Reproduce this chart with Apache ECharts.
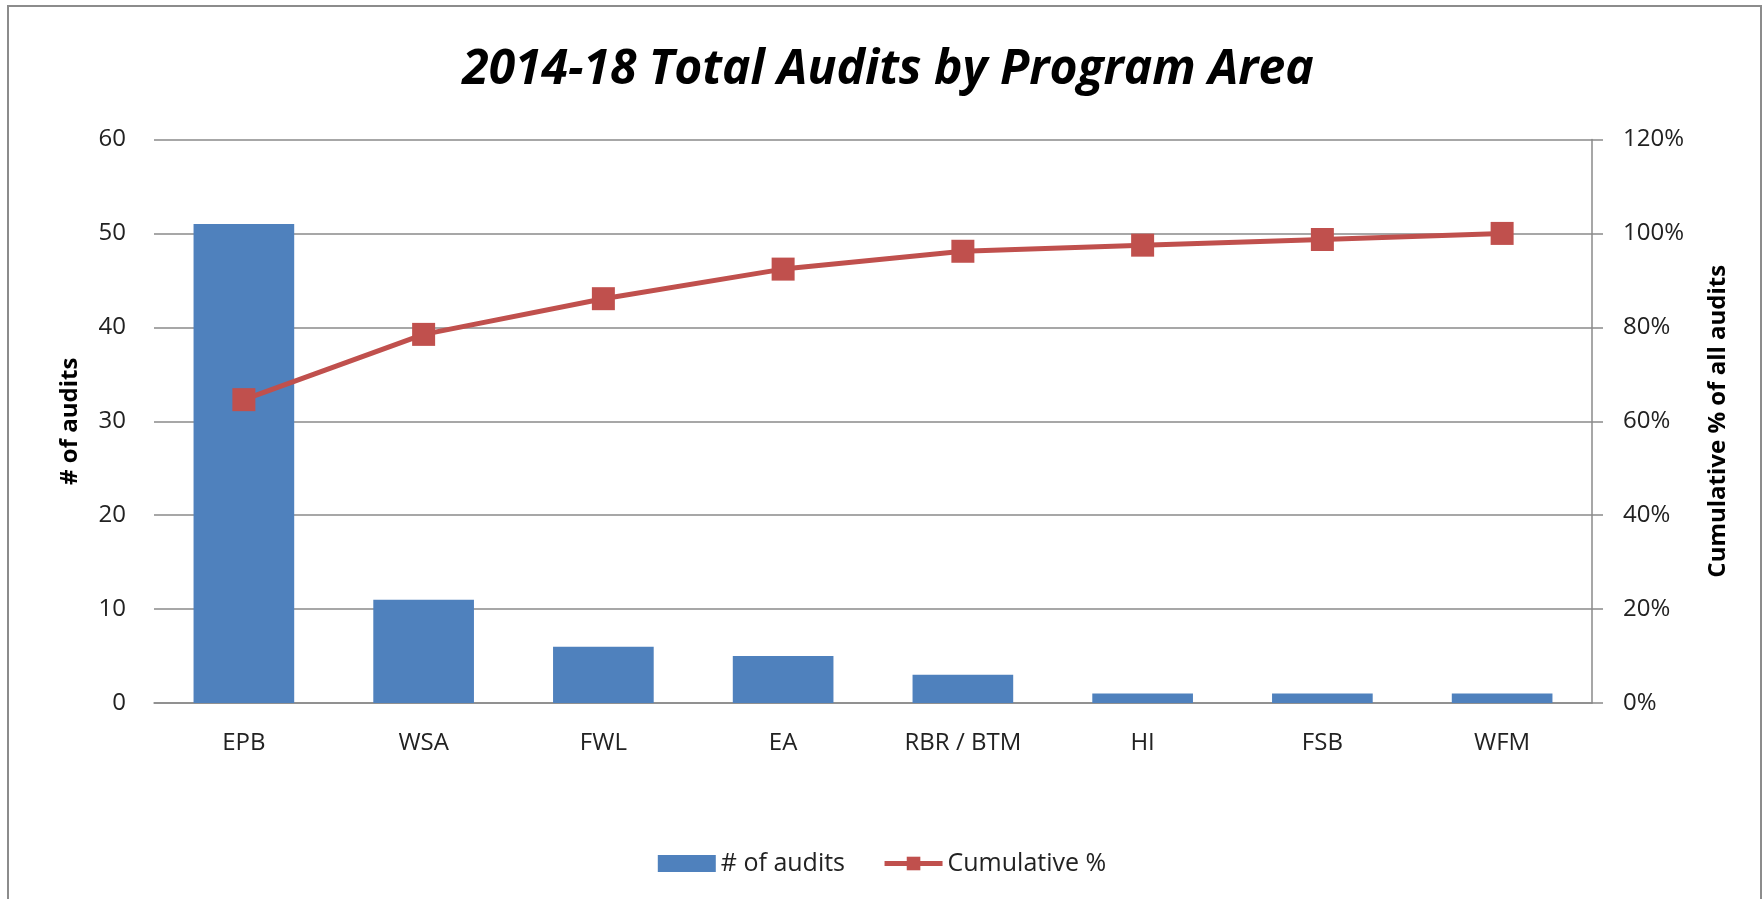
<!DOCTYPE html>
<html>
<head>
<meta charset="utf-8">
<title>2014-18 Total Audits by Program Area</title>
<script src="https://cdn.jsdelivr.net/npm/echarts@6/dist/echarts.min.js"></script>
<style>
  html, body { margin: 0; padding: 0; background: #fff; }
  #chart { width: 1764px; height: 899px; }
</style>
</head>
<body>
<div id="chart"></div>
<script>
// Data
const programAreas = ['EPB', 'WSA', 'FWL', 'EA', 'RBR / BTM', 'HI', 'FSB', 'WFM']
const auditCounts = [51, 11, 6, 5, 3, 1, 1, 1]
const cumulativeShare = [0.646, 0.785, 0.861, 0.924, 0.962, 0.975, 0.987, 1.0]

const font = '"Open Sans", "Noto Sans", sans-serif'
const gridColor = '#8a8a8a'
const textColor = '#222'
const lineColor = '#C0504D'

const chart = echarts.init(document.getElementById('chart'))

chart.setOption({
  backgroundColor: '#fff',
  animation: false,
  textStyle: { fontFamily: font, color: textColor },
  graphic: [
    {
      type: 'rect',
      shape: { x: 8, y: 6, width: 1753, height: 900 },
      style: { fill: 'none', stroke: '#8c8c8c', lineWidth: 2 },
      silent: true,
    },
  ],
  title: {
    text: '2014-18 Total Audits by Program Area',
    left: 883,
    top: 41,
    textAlign: 'center',
    textStyle: {
      fontFamily: font,
      fontSize: 48,
      fontWeight: 'bold',
      fontStyle: 'italic',
      color: '#000',
    },
  },
  legend: {
    top: 846,
    left: 'center',
    itemGap: 37,
    itemWidth: 58,
    itemHeight: 17,
    textStyle: { fontFamily: font, fontSize: 25, color: textColor },
    data: [
      { name: '# of audits', icon: 'rect' },
      {
        name: 'Cumulative %',
        lineStyle: { color: lineColor, width: 5 },
        itemStyle: { color: lineColor },
      },
    ],
  },
  grid: {
    left: 154,
    right: 172,
    top: 139.5,
    bottom: 196,
    containLabel: false,
  },
  xAxis: {
    type: 'category',
    data: programAreas,
    axisLine: { show: true, lineStyle: { color: gridColor, width: 1.5 } },
    axisTick: { show: false },
    axisLabel: { fontFamily: font, fontSize: 24, color: textColor, margin: 28 },
  },
  yAxis: [
    {
      type: 'value',
      min: 0,
      max: 60,
      interval: 10,
      name: '# of audits',
      nameLocation: 'middle',
      nameRotate: 90,
      nameGap: 72,
      nameTextStyle: { fontFamily: font, fontSize: 24, fontWeight: 'bold', color: '#000' },
      axisLine: { show: false },
      axisTick: { show: false },
      axisLabel: { fontFamily: font, fontSize: 24, color: textColor, margin: 28 },
      splitLine: { lineStyle: { color: gridColor, width: 1.5 } },
    },
    {
      type: 'value',
      min: 0,
      max: 1.2,
      interval: 0.2,
      position: 'right',
      name: 'Cumulative % of all audits',
      nameLocation: 'middle',
      nameRotate: 90,
      nameGap: 114,
      nameTextStyle: { fontFamily: font, fontSize: 24, fontWeight: 'bold', color: '#000' },
      axisLine: { show: true, lineStyle: { color: gridColor, width: 1.5 } },
      axisTick: { show: true, length: 11, lineStyle: { color: gridColor, width: 1.5 } },
      axisLabel: {
        fontFamily: font,
        fontSize: 24,
        color: textColor,
        margin: 31,
        formatter: (v) => Math.round(v * 100) + '%',
      },
      splitLine: { show: false },
    },
  ],
  series: [
    {
      name: '# of audits',
      type: 'bar',
      data: auditCounts,
      barCategoryGap: '44%',
      itemStyle: { color: '#4F81BD' },
    },
    {
      name: 'Cumulative %',
      type: 'line',
      yAxisIndex: 1,
      data: cumulativeShare,
      symbol: 'rect',
      symbolSize: 23,
      lineStyle: { color: lineColor, width: 5 },
      itemStyle: { color: lineColor },
    },
  ],
})
</script>
</body>
</html>
